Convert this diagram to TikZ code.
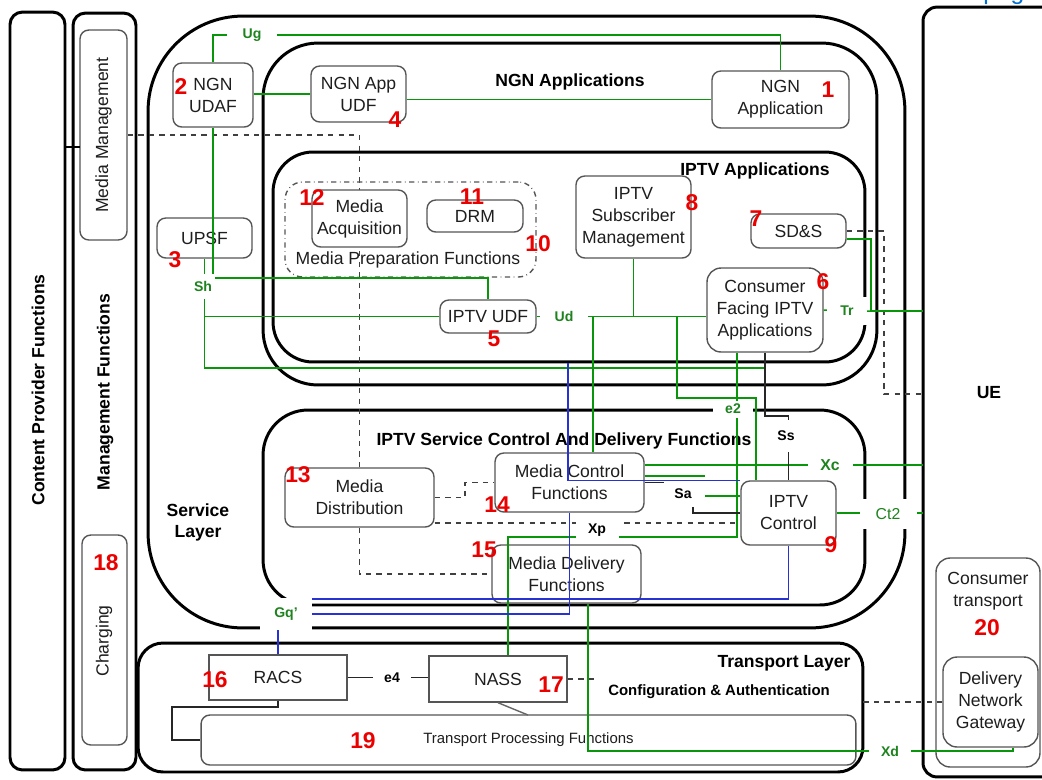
\documentclass[tikz,border=0pt]{standalone}
\usepackage{fontspec}
\setmainfont{Liberation Sans}
\usepackage{xcolor}
\usepackage{tikz}
\usetikzlibrary{positioning, calc}
\definecolor{ifgreen}{RGB}{10,150,10}
\definecolor{lblgreen}{RGB}{30,130,30}
\definecolor{ifblue}{RGB}{40,50,210}
\definecolor{numred}{RGB}{235,0,0}
\definecolor{boxgray}{RGB}{85,85,85}
\definecolor{txtdark}{RGB}{30,30,30}
\definecolor{linkblue}{RGB}{0,110,210}
\tikzset{
  layerbox/.style={draw=black, line width=1.7pt, inner sep=0pt, outer sep=0pt},
  fnbox/.style={draw=boxgray, fill=white, rounded corners=5pt, line width=0.8pt,
    align=center, inner sep=1pt, text=txtdark, font=\fontsize{10}{12.5}\selectfont},
  sqbox/.style={fnbox, rounded corners=0pt},
  plaintxt/.style={text=txtdark, align=center, inner sep=0pt, font=\fontsize{10}{12.5}\selectfont},
  numlbl/.style={text=numred, font=\bfseries\fontsize{13}{13}\selectfont, inner sep=0pt},
  iflbl/.style={fill=white, text=lblgreen, font=\bfseries\fontsize{8}{9}\selectfont, inner sep=0pt},
  kiflbl/.style={iflbl, text=black},
  title/.style={font=\bfseries\fontsize{10}{12}\selectfont, align=center, inner sep=0pt},
  gline/.style={draw=ifgreen, line width=0.85pt},
  bline/.style={draw=ifblue, line width=0.85pt},
  kline/.style={draw=black!85, line width=0.8pt},
  dline/.style={draw=black!75, dashed, line width=0.8pt}
}

\begin{document}
\begin{tikzpicture}[x=0.02cm, y=-0.02cm]
  \useasboundingbox (0,0) rectangle (1042,779);

  % ── side panels ──
  \node[layerbox, rounded corners=7pt, minimum width=1.1cm, minimum height=15.16cm] (cpf) at (37.5,391) {};
  \node[layerbox, rounded corners=7pt, minimum width=1.26cm, minimum height=15.14cm] (mgmtf) at (104.5,391.5) {};
  \node[title, rotate=90] (cpftxt) at (38,390) {Content Provider Functions};
  \node[title, rotate=90] (mgmtftxt) at (105,392) {Management Functions};
  \node[fnbox, minimum width=0.94cm, minimum height=4.2cm] (mmgmt) at (103.5,135) {};
  \node[plaintxt, rotate=90] (mmgmttxt) at (mmgmt) {Media Management};
  \node[fnbox, minimum width=0.9cm, minimum height=4.2cm] (charging) at (104.5,640) {};
  \node[plaintxt, rotate=90] (chargingtxt) at (104,641) {Charging};

  % ── layers ──
  \node[layerbox, rounded corners=1.9cm, minimum width=15.14cm, minimum height=12.24cm] (servlayer) at (526.5,322) {};
  \node[layerbox, rounded corners=1.1cm, minimum width=12.28cm, minimum height=6.84cm] (ngnapps) at (570,214) {};
  \node[layerbox, rounded corners=0.8cm, minimum width=11.84cm, minimum height=4.2cm] (iptvapps) at (569,257) {};
  \node[layerbox, rounded corners=0.9cm, minimum width=12.04cm, minimum height=3.9cm] (scdf) at (564,507.5) {};
  \node[layerbox, rounded corners=0.5cm, minimum width=14.5cm, minimum height=2.58cm] (translayer) at (500.5,707.5) {};
  \node[layerbox, rounded corners=8pt, minimum width=3.74cm, minimum height=15.4cm] (uebox) at (1016.5,392) {};

  % ── titles ──
  \node[title] (ngnappstxt) at (570,82) {NGN Applications};
  \node[title] (iptvappstxt) at (755,171) {IPTV Applications};
  \node[title] (scdftxt) at (564,441) {IPTV Service Control And Delivery Functions};
  \node[title] (servtxt) at (198,522) {Service\\Layer};
  \node[title] (transtxt) at (784,663) {Transport Layer};
  \node[title, font=\bfseries\fontsize{8.5}{10}\selectfont] (conftxt) at (719,692) {Configuration \& Authentication};
  \node[title] (ue) at (989,393) {UE};
  \node[text=linkblue, anchor=base west, inner sep=0pt, font=\fontsize{14}{14}\selectfont] (pagtxt) at (983,-1) {pag};

  % ── media distribution path (behind acquisition box) ──
  \node[fnbox, minimum width=2.98cm, minimum height=1.18cm] (mdist) at (359.5,497.5) {Media\\Distribution};
  \node[fnbox, minimum width=2.98cm, minimum height=1.16cm] (mdf) at (566.5,574) {Media Delivery\\Functions};
  \draw[dline] (mmgmt.east) -| (mdist.north);
  \draw[dline] (mdist.south) |- (mdf.west);

  % ── functional entities ──
  \node[draw=boxgray, dash dot, line width=0.8pt, rounded corners=10pt, minimum width=5.02cm, minimum height=1.9cm, inner sep=0pt] (mprep) at (410.5,229.5) {};
  \node[plaintxt] (mpreptxt) at (408,260) {Media Preparation Functions};
  \node[fnbox, minimum width=1.9cm, minimum height=1.14cm] (acq) at (359.5,218.5) {Media\\Acquisition};
  \node[fnbox, minimum width=1.92cm, minimum height=0.64cm] (drm) at (475,216) {DRM};
  \node[fnbox, minimum width=1.6cm, minimum height=1.28cm] (udaf) at (213,95) {NGN\\UDAF};
  \node[fnbox, minimum width=1.9cm, minimum height=1.12cm] (appudf) at (358.5,94) {NGN App\\UDF};
  \node[fnbox, minimum width=2.74cm, minimum height=1.14cm] (ngnapp) at (780.5,99.5) {NGN\\Application};
  \node[fnbox, minimum width=1.9cm, minimum height=0.8cm] (upsf) at (204.5,238) {UPSF};
  \node[fnbox, minimum width=2.3cm, minimum height=1.64cm] (subm) at (633.5,217) {IPTV\\Subscriber\\Management};
  \node[fnbox, minimum width=1.9cm, minimum height=0.68cm] (sds) at (798.5,231) {SD\&S};
  \node[fnbox, rounded corners=8pt, minimum width=2.32cm, minimum height=1.68cm] (cfia) at (765,310) {Consumer\\Facing IPTV\\Applications};
  \node[fnbox, minimum width=1.92cm, minimum height=0.66cm] (iptvudf) at (488,316.5) {IPTV UDF};
  \node[fnbox, minimum width=2.98cm, minimum height=1.18cm] (mcf) at (569.5,482.5) {Media Control\\Functions};
  \node[fnbox, minimum width=1.9cm, minimum height=1.28cm] (ictrl) at (788.5,513) {IPTV\\Control};
  \node[sqbox, minimum width=2.76cm, minimum height=0.9cm] (racs) at (278,677.5) {RACS};
  \node[sqbox, minimum width=2.76cm, minimum height=0.92cm] (nass) at (498,679) {NASS};
  \node[fnbox, font=\fontsize{8.5}{10}\selectfont, minimum width=13.1cm, minimum height=1.0cm] (tpf) at (528.5,740) {Transport Processing Functions};
  \node[fnbox, rounded corners=8pt, minimum width=2.08cm, minimum height=4.18cm] (ctrans) at (988,662.5) {};
  \node[plaintxt] (ctranstxt) at (988,591) {Consumer\\transport};
  \node[fnbox, rounded corners=8pt, minimum width=1.9cm, minimum height=1.8cm] (dng) at (990.5,702) {Delivery\\Network\\Gateway};

  % ── bend points and label positions ──
  \coordinate (ug) at (252,35);
  \coordinate (sh) at (203,286);
  \coordinate (shend) at (764,368);
  \coordinate (ud) at (564,316);
  \coordinate (mcfud) at (593,316.5);
  \coordinate (e2bus) at (677,316.5);
  \coordinate (e2top) at (756,398);
  \coordinate (e2) at (733,409);
  \coordinate (e2low) at (737,537);
  \coordinate (nassin) at (508,537);
  \coordinate (tr) at (847,311);
  \coordinate (sdsj) at (871,239);
  \coordinate (sdsd) at (884,394);
  \coordinate (xc) at (830,465);
  \coordinate (mcfstub) at (705,476);
  \coordinate (sag) at (705,496);
  \coordinate (sak) at (693,507);
  \coordinate (sa) at (683,494);
  \coordinate (ssx) at (765,416);
  \coordinate (ss) at (786,436);
  \coordinate (xp) at (597,530);
  \coordinate (xpd) at (600,523);
  \coordinate (mdm) at (465,497.5);
  \coordinate (ct2) at (888,514);
  \coordinate (bl1) at (568,363);
  \coordinate (gq) at (286,614);
  \coordinate (gqb) at (300,599);
  \coordinate (e4) at (392,678);
  \coordinate (xdl) at (588,751);
  \coordinate (xdr) at (1013,751);
  \coordinate (xd) at (890,751);
  \coordinate (racsl) at (172,707);
  \coordinate (nassd) at (528,715);
  \coordinate (cpmm) at (80,147);

  % ── dashed links ──
  \draw[dline] (mdist.east) -- (mdm) |- (mcf.west);
  \draw[dline] (xpd -| mdist.east) -- (xpd -| ictrl.west);
  \draw[dline] (nass.east) -- ++(28,0);
  \draw[dline] (dng.west) -- (dng.west -| translayer.east);
  \draw[dline] (sds.east) -| (sdsd) -- (sdsd -| uebox.west);

  % ── green interfaces ──
  \draw[gline] (udaf.north) |- (ug) -| (ngnapp.north);
  \draw[gline] (appudf.west -| udaf.east) -- (appudf.west);
  \draw[gline] (appudf.east |- ngnapp.west) -- (ngnapp.west);
  \draw[gline] (udaf.south) |- (488,278) -- (iptvudf.north);
  \draw[gline] (upsf.south) |- (shend);
  \draw[gline] (iptvudf.west) -- (iptvudf.west -| upsf.south);
  \draw[gline] (iptvudf.east) -- (iptvudf.east -| cfia.west);
  \draw[gline] (subm.south) -- (subm.south |- iptvudf.east);
  \draw[gline] (mcfud) -- (mcfud |- mcf.north);
  \draw[gline] (e2bus) |- (e2top) -- (e2top |- ictrl.north);
  \draw[gline] (cfia.south -| e2low) -- (e2low) -- (nassin) -- (nassin |- nass.north);
  \draw[gline] (xc -| mcf.east) -- (xc -| uebox.west);
  \draw[gline] (mcfstub -| mcf.east) -- (mcfstub);
  \draw[gline] (sag) -- (sag -| ictrl.west);
  \draw[gline] (ictrl.east) -- (ictrl.east -| uebox.west);
  \draw[gline] (cfia.east) -- (tr) -- (tr -| sdsj);
  \draw[gline] (sdsj -| sds.east) -- (sdsj) |- (tr -| uebox.west);
  \draw[gline] (mdf.south -| xdl) -- (xdl) -- (xdr) -- (xdr |- dng.south);

  % ── blue interfaces ──
  \draw[bline] (bl1) |- (ictrl.north west);
  \draw[bline] (mcf.south) |- (gq);
  \draw[bline] (ictrl.south) |- (gqb);
  \draw[bline] (racs.north) -- (racs.north |- gq);

  % ── black interfaces ──
  \draw[kline] (cfia.south -| ssx) -- (ssx) -- (ssx -| ictrl.north) -- (ictrl.north);
  \draw[kline] (mcf.east) -- ++(19,0);
  \draw[kline] (sak) |- (ictrl.west);
  \draw[kline] (racs.east) -- (racs.east -| nass.west);
  \draw[kline] (racs.south) |- (racsl) |- (tpf.west);
  \draw[kline, black!60] (nass.south) -- (nassd);
  \draw[black, line width=1.3pt] (cpmm -| cpf.east) -- (cpmm);

  % ── interface labels ──
  \node[iflbl, minimum width=1.0cm, minimum height=0.4cm] (uglbl) at (ug) {Ug};
  \node[iflbl, minimum width=0.5cm, minimum height=0.5cm] (shlbl) at (sh) {Sh};
  \node[iflbl, minimum width=0.96cm, minimum height=0.4cm] (udlbl) at (ud) {Ud};
  \node[iflbl, minimum width=0.8cm, minimum height=0.56cm] (trlbl) at (tr) {Tr};
  \node[iflbl, minimum width=0.8cm, minimum height=0.34cm] (e2lbl) at (e2) {e2};
  \node[iflbl, font=\bfseries\fontsize{9}{10}\selectfont, minimum width=0.9cm, minimum height=0.4cm] (xclbl) at (xc) {Xc};
  \node[iflbl, font=\fontsize{9}{10}\selectfont, minimum width=1.14cm, minimum height=0.6cm] (ct2lbl) at (ct2) {Ct2};
  \node[iflbl, minimum width=1.04cm, minimum height=0.64cm] (gqlbl) at (gq) {Gq'};
  \node[iflbl, minimum width=0.84cm, minimum height=0.4cm] (xdlbl) at (xd) {Xd};
  \node[kiflbl, minimum width=0.7cm, minimum height=0.64cm] (sslbl) at (ss) {Ss};
  \node[kiflbl] (salbl) at (sa) {Sa};
  \node[kiflbl, minimum width=0.86cm, minimum height=0.48cm] (xplbl) at (xp) {Xp};
  \node[kiflbl, minimum width=0.78cm, minimum height=0.4cm] (e4lbl) at (e4) {e4};

  % ── reference numbers ──
  \node[numlbl] (n1) at (828,90) {1};
  \node[numlbl] (n2) at (181,87) {2};
  \node[numlbl] (n3) at (175,260) {3};
  \node[numlbl] (n4) at (395,120) {4};
  \node[numlbl] (n5) at (494,339) {5};
  \node[numlbl] (n6) at (823,282) {6};
  \node[numlbl] (n7) at (756,219) {7};
  \node[numlbl] (n8) at (692,203) {8};
  \node[numlbl] (n9) at (831,545) {9};
  \node[numlbl] (n10) at (538,244) {10};
  \node[numlbl] (n11) at (472,197) {11};
  \node[numlbl] (n12) at (312,198) {12};
  \node[numlbl] (n13) at (298,475) {13};
  \node[numlbl] (n14) at (497,505) {14};
  \node[numlbl] (n15) at (484,550) {15};
  \node[numlbl] (n16) at (215,680) {16};
  \node[numlbl] (n17) at (551,685) {17};
  \node[numlbl] (n18) at (106,563) {18};
  \node[numlbl] (n19) at (363,741) {19};
  \node[numlbl] (n20) at (987,628) {20};
\end{tikzpicture}
\end{document}
